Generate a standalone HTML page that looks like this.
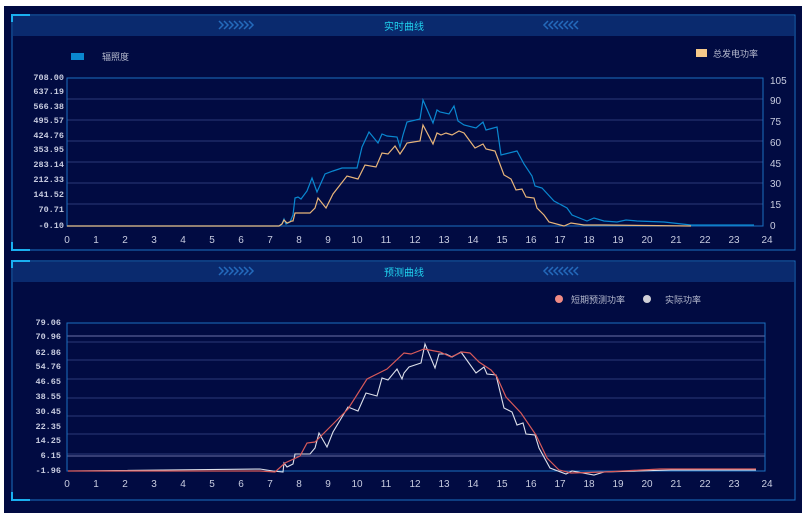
<!DOCTYPE html>
<html><head><meta charset="utf-8"><style>
html,body{margin:0;padding:0;background:#fff;}
svg{display:block;font-family:"Liberation Sans","Noto Sans CJK SC",sans-serif;}
.m{font-family:"Liberation Mono","DejaVu Sans Mono",monospace;font-size:8.5px;fill:#c8cce0;font-weight:bold}
.xt{font-size:10px;fill:#c8cce0}
.g{stroke:#2a3a78;stroke-width:1}
</style></head><body>
<svg width="808" height="521" viewBox="0 0 808 521">
<defs>
<g id="chr"><path d="M0 0 l4 4 l-4 4" fill="none" stroke-width="1.6"/></g>
</defs>
<rect x="4" y="6" width="798" height="507" fill="#010b42"/>
<!-- panel 1 -->
<rect x="12" y="15" width="783" height="235" fill="#010b42" stroke="#1a6fc0" stroke-width="1"/>
<rect x="13" y="16" width="781" height="20" fill="#0a2a6e"/>
<path d="M12 22 V15 H30" stroke="#1ab0f0" stroke-width="2" fill="none"/>
<path d="M12 242 V250 H30" stroke="#1ab0f0" stroke-width="2" fill="none"/>
<g stroke="#2a7ad0" fill="none" stroke-width="1.5">
<path d="M219 21 l4 4 l-4 4 M224 21 l4 4 l-4 4 M229 21 l4 4 l-4 4 M234 21 l4 4 l-4 4 M239 21 l4 4 l-4 4 M244 21 l4 4 l-4 4 M249 21 l4 4 l-4 4" stroke-opacity="0.8"/>
<path d="M548 21 l-4 4 l4 4 M553 21 l-4 4 l4 4 M558 21 l-4 4 l4 4 M563 21 l-4 4 l4 4 M568 21 l-4 4 l4 4 M573 21 l-4 4 l4 4 M578 21 l-4 4 l4 4" stroke-opacity="0.8"/>
</g>
<text x="404" y="30" font-size="10" fill="#20d4f0" text-anchor="middle">实时曲线</text>
<rect x="71" y="53" width="13" height="7" fill="#0a88d0"/>
<text x="102" y="60" font-size="9" fill="#b8bcd0">辐照度</text>
<rect x="696" y="49" width="11" height="8" fill="#f5c98a"/>
<text x="713" y="57" font-size="9" fill="#b8bcd0">总发电功率</text>
<g class="g">
<line x1="67" y1="99" x2="763" y2="99"/><line x1="67" y1="120" x2="763" y2="120"/><line x1="67" y1="141" x2="763" y2="141"/><line x1="67" y1="162" x2="763" y2="162"/><line x1="67" y1="183" x2="763" y2="183"/><line x1="67" y1="204" x2="763" y2="204"/>
</g>
<rect x="67" y="78" width="696" height="148" fill="none" stroke="#1a6fc0"/>
<g class="m" text-anchor="end">
<text x="64" y="80">708.00</text><text x="64" y="94">637.19</text><text x="64" y="109">566.38</text><text x="64" y="123">495.57</text><text x="64" y="138">424.76</text><text x="64" y="152">353.95</text><text x="64" y="167">283.14</text><text x="64" y="182">212.33</text><text x="64" y="197">141.52</text><text x="64" y="212">70.71</text><text x="64" y="228">-0.10</text>
</g>
<g class="xt">
<text x="770" y="84">105</text><text x="770" y="104">90</text><text x="770" y="125">75</text><text x="770" y="146">60</text><text x="770" y="167">45</text><text x="770" y="187">30</text><text x="770" y="208">15</text><text x="770" y="229">0</text>
</g>
<g class="xt" text-anchor="middle">
<text x="67" y="243">0</text><text x="96" y="243">1</text><text x="125" y="243">2</text><text x="154" y="243">3</text><text x="183" y="243">4</text><text x="212" y="243">5</text><text x="241" y="243">6</text><text x="270" y="243">7</text><text x="299" y="243">8</text><text x="328" y="243">9</text><text x="357" y="243">10</text><text x="386" y="243">11</text><text x="415" y="243">12</text><text x="444" y="243">13</text><text x="473" y="243">14</text><text x="502" y="243">15</text><text x="531" y="243">16</text><text x="560" y="243">17</text><text x="589" y="243">18</text><text x="618" y="243">19</text><text x="647" y="243">20</text><text x="676" y="243">21</text><text x="705" y="243">22</text><text x="734" y="243">23</text><text x="767" y="243">24</text>
</g>
<polyline fill="none" stroke="#0a88d0" stroke-width="1.2" points="67,226 279,226 282,224 284,219 286,224 290,222 293,215 295,198 298,197 301,199 307,191 312,178 317,192 325,174 333,171 342,168 357,168 362,147 369,132 378,143 382,134 387,136 397,137 400,147 403,135 407,122 420,119 423,100 433,123 437,110 440,112 449,114 454,106 458,121 464,125 476,128 483,122 486,130 497,127 501,155 517,151 524,164 532,176 535,186 542,188 554,201 567,208 572,215 587,221 594,218 604,221 617,222 626,220 637,221 664,222 691,225 754,225"/>
<polyline fill="none" stroke="#e8b57a" stroke-width="1.2" points="67,226 279,226 282,224 284,220 287,223 292,221 293,221 295,213 310,213 315,208 318,198 326,208 333,194 347,176 358,179 365,165 376,167 382,153 388,154 395,146 400,154 404,148 407,143 420,141 423,125 433,144 437,133 441,135 446,133 452,135 459,131 464,133 475,148 483,144 486,149 495,151 504,175 511,179 516,190 522,189 526,197 534,198 537,208 544,215 549,222 564,226 571,223 584,225 604,225 691,226"/>
<!-- panel 2 -->
<rect x="12" y="261" width="783" height="239" fill="#010b42" stroke="#1a6fc0" stroke-width="1"/>
<rect x="13" y="262" width="781" height="20" fill="#0a2a6e"/>
<path d="M12 268 V261 H30" stroke="#1ab0f0" stroke-width="2" fill="none"/>
<path d="M12 492 V500 H30" stroke="#1ab0f0" stroke-width="2" fill="none"/>
<g stroke="#2a7ad0" fill="none" stroke-width="1.5" stroke-opacity="0.8">
<path d="M219 267 l4 4 l-4 4 M224 267 l4 4 l-4 4 M229 267 l4 4 l-4 4 M234 267 l4 4 l-4 4 M239 267 l4 4 l-4 4 M244 267 l4 4 l-4 4 M249 267 l4 4 l-4 4"/>
<path d="M548 267 l-4 4 l4 4 M553 267 l-4 4 l4 4 M558 267 l-4 4 l4 4 M563 267 l-4 4 l4 4 M568 267 l-4 4 l4 4 M573 267 l-4 4 l4 4 M578 267 l-4 4 l4 4"/>
</g>
<text x="404" y="276" font-size="10" fill="#20d4f0" text-anchor="middle">预测曲线</text>
<circle cx="559" cy="299" r="4" fill="#f08a84"/>
<text x="571" y="303" font-size="9" fill="#b8bcd0">短期预测功率</text>
<circle cx="647" cy="299" r="4" fill="#d0d0d8"/>
<text x="665" y="303" font-size="9" fill="#b8bcd0">实际功率</text>
<g class="g">
<line x1="67" y1="336" x2="765" y2="336" stroke="#6a70a8"/><line x1="67" y1="342" x2="765" y2="342"/><line x1="67" y1="360" x2="765" y2="360"/><line x1="67" y1="379" x2="765" y2="379"/><line x1="67" y1="398" x2="765" y2="398"/><line x1="67" y1="416" x2="765" y2="416"/><line x1="67" y1="434" x2="765" y2="434"/><line x1="67" y1="454" x2="765" y2="454"/><line x1="67" y1="456" x2="765" y2="456" stroke="#6a70a8"/>
</g>
<rect x="67" y="323" width="698" height="148" fill="none" stroke="#1a6fc0"/>
<g class="m" text-anchor="end">
<text x="61" y="325">79.06</text><text x="61" y="339">70.96</text><text x="61" y="355">62.86</text><text x="61" y="369">54.76</text><text x="61" y="384">46.65</text><text x="61" y="399">38.55</text><text x="61" y="414">30.45</text><text x="61" y="429">22.35</text><text x="61" y="443">14.25</text><text x="61" y="458">6.15</text><text x="61" y="473">-1.96</text>
</g>
<g class="xt" text-anchor="middle">
<text x="67" y="487">0</text><text x="96" y="487">1</text><text x="125" y="487">2</text><text x="154" y="487">3</text><text x="183" y="487">4</text><text x="212" y="487">5</text><text x="241" y="487">6</text><text x="270" y="487">7</text><text x="299" y="487">8</text><text x="328" y="487">9</text><text x="357" y="487">10</text><text x="386" y="487">11</text><text x="415" y="487">12</text><text x="444" y="487">13</text><text x="473" y="487">14</text><text x="502" y="487">15</text><text x="531" y="487">16</text><text x="560" y="487">17</text><text x="589" y="487">18</text><text x="618" y="487">19</text><text x="647" y="487">20</text><text x="676" y="487">21</text><text x="705" y="487">22</text><text x="734" y="487">23</text><text x="767" y="487">24</text>
</g>
<polyline fill="none" stroke="#dde0ea" stroke-width="1.1" points="68,471 260,469 273,471 283,472 284,463 287,467 293,464 295,454 310,454 315,448 319,433 327,447 333,432 348,407 358,411 366,393 377,396 382,378 388,380 397,369 402,379 404,373 409,367 421,363 425,344 435,368 439,354 446,354 452,357 461,352 476,373 484,367 487,374 496,375 504,408 512,412 517,425 523,423 526,434 535,435 539,448 550,468 566,474 572,471 594,475 604,472 671,470 756,470"/>
<polyline fill="none" stroke="#d85a5a" stroke-width="1.2" points="68,471 260,471 275,472 285,463 300,456 307,443 315,442 333,424 348,409 367,379 377,374 387,369 404,353 411,354 424,349 440,352 451,357 462,352 470,353 479,362 491,370 497,377 506,397 521,413 536,435 547,458 559,470 571,473 604,472 660,469 756,469"/>
</svg>
</body></html>
